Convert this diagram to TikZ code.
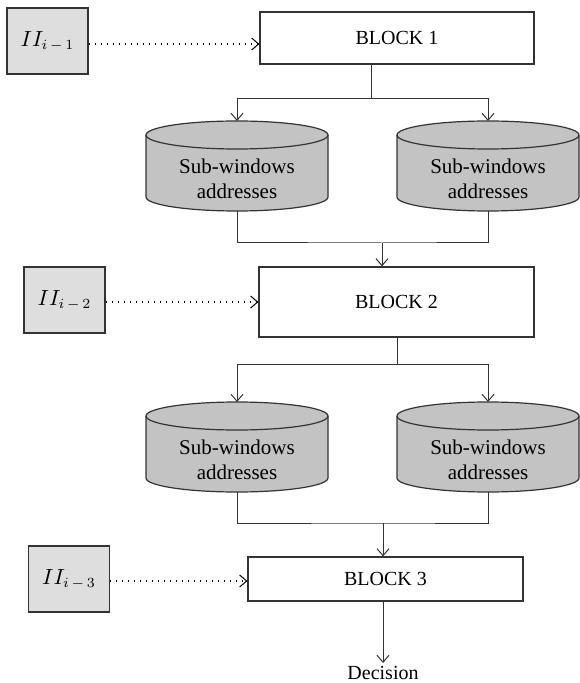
\documentclass[tikz,border=0pt]{standalone}
\usepackage{fontspec}
\setmainfont{Liberation Serif}
\usetikzlibrary{arrows.meta,calc}

\definecolor{inputfill}{HTML}{DEDEDE}
\definecolor{dbfillc}{HTML}{C3C3C3}
\definecolor{edge}{HTML}{333333}

\tikzset{
  blockbox/.style={draw=edge, line width=0.6pt, fill=white, inner sep=0pt,
    font=\fontsize{10}{12}\selectfont},
  inputbox/.style={draw=edge, line width=0.6pt, fill=inputfill, inner sep=0pt,
    minimum width=40.5pt, minimum height=33pt, font=\fontsize{10.5}{13}\selectfont},
  flow/.style={draw=edge, line width=0.5pt, -{Straight Barb[length=3.5pt,width=6pt]}},
  plainline/.style={draw=edge, line width=0.5pt},
  dotflow/.style={draw=black, line width=0.6pt, dash pattern=on 0.4pt off 2.6pt,
    -{Straight Barb[length=3.5pt,width=6pt,line width=0.5pt]}},
  dbtext/.style={align=center, inner sep=0pt, font=\fontsize{10.5}{12.5}\selectfont},
  db/.pic={
    \filldraw[draw=edge, line width=0.6pt, fill=dbfillc]
      (-91,14) -- (-91,76)
      arc[start angle=180, end angle=360, x radius=45.5pt, y radius=7pt]
      -- (91,14)
      arc[start angle=0, end angle=180, x radius=45.5pt, y radius=7pt]
      -- cycle;
    \draw[draw=edge, line width=0.6pt]
      (-91,14) arc[start angle=180, end angle=360, x radius=45.5pt, y radius=7pt];
    \coordinate (-top) at (0,0);
    \coordinate (-bot) at (0,90);
    \node[dbtext] (-txt) at (0,58) {Sub-windows\\addresses};
  }
}

\begin{document}
\begin{tikzpicture}[x=0.5pt, y=-0.5pt]
  \useasboundingbox (0,0) rectangle (579,683);

  % processing blocks
  \node[blockbox, minimum width=137pt, minimum height=26pt] (b1) at (397,38) {BLOCK 1};
  \node[blockbox, minimum width=137.5pt, minimum height=35pt] (b2) at (396.5,302) {BLOCK 2};
  \node[blockbox, minimum width=137.5pt, minimum height=22pt] (b3) at (385.5,579) {BLOCK 3};

  % integral image inputs
  \node[inputbox] (ii1) at (47.5,41) {$II_{i\,{-}\,1}$};
  \node[inputbox] (ii2) at (64.5,300) {$II_{i\,{-}\,2}$};
  \node[inputbox] (ii3) at (69,579) {$II_{i\,{-}\,3}$};

  % sub-window address stores
  \pic (d1l) at (237,121) {db};
  \pic (d1r) at (488,121) {db};
  \pic (d2l) at (237,402) {db};
  \pic (d2r) at (488,402) {db};

  % inputs feeding the blocks
  \draw[dotflow] ([yshift=-1.5pt]ii1.east) -- ([yshift=-1.5pt]ii1.east -| b1.west);
  \draw[dotflow] ([yshift=-1pt]ii2.east) -- ([yshift=-1pt]ii2.east -| b2.west);
  \draw[dotflow] ([yshift=-1pt]ii3.east) -- ([yshift=-1pt]ii3.east -| b3.west);

  % block 1 splits into two stores
  \coordinate (s1) at (371,99);
  \draw[plainline] (s1 |- b1.south) -- (s1);
  \draw[flow] (s1) -| (d1l-top);
  \draw[flow] (s1) -| (d1r-top);

  % stores merge into block 2
  \coordinate (m1) at (382,243);
  \draw[plainline] (d1l-bot) |- (m1) -| (d1r-bot);
  \draw[flow] (m1) -- (m1 |- b2.north);

  % block 2 splits into two stores
  \coordinate (s2) at (397,364);
  \draw[plainline] (s2 |- b2.south) -- (s2);
  \draw[flow] (s2) -| (d2l-top);
  \draw[flow] (s2) -| (d2r-top);

  % stores merge into block 3
  \coordinate (m2) at (383,523);
  \draw[plainline] (d2l-bot) |- (m2) -| (d2r-bot);
  \draw[flow] (m2) -- (m2 |- b3.north);

  % final decision
  \node[font=\fontsize{10}{12}\selectfont, inner sep=0pt, anchor=north] (dec) at (383,666) {Decision};
  \draw[flow] (dec.north |- b3.south) -- ([yshift=1.5pt]dec.north);
\end{tikzpicture}
\end{document}
